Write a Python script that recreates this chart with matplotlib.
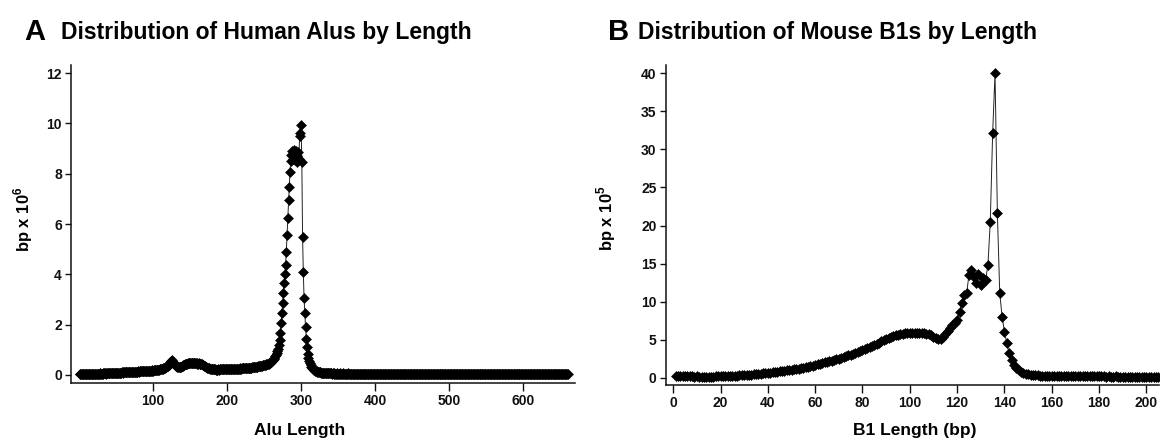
import matplotlib
matplotlib.use("Agg")
import matplotlib.pyplot as plt
import numpy as np

plt.rcParams['font.family'] = ['Liberation Sans', 'DejaVu Sans']
plt.rcParams['font.weight'] = 'bold'
plt.rcParams['mathtext.fontset'] = 'custom'
plt.rcParams['mathtext.rm'] = 'Liberation Sans'
plt.rcParams['mathtext.bf'] = 'Liberation Sans:bold'

# ---------------- Panel A: human Alu length distribution (bp x 10^6) -------------
alu_lengths = np.arange(1, 661)
alu_values = [
    0.02, 0.03, 0.02, 0.03, 0.03, 0.02, 0.03, 0.03, 0.04, 0.03, 0.03, 0.04, 0.03, 0.04, 0.04, 0.03, 0.04, 0.04, 0.05, 0.04,
    0.04, 0.05, 0.04, 0.05, 0.05, 0.04, 0.05, 0.05, 0.06, 0.05, 0.05, 0.06, 0.05, 0.06, 0.06, 0.05, 0.06, 0.06, 0.07, 0.06,
    0.06, 0.07, 0.06, 0.07, 0.07, 0.07, 0.08, 0.07, 0.08, 0.08, 0.08, 0.08, 0.09, 0.08, 0.09, 0.09, 0.09, 0.10, 0.09, 0.10,
    0.10, 0.10, 0.10, 0.11, 0.10, 0.11, 0.11, 0.11, 0.12, 0.11, 0.12, 0.12, 0.12, 0.12, 0.13, 0.12, 0.13, 0.13, 0.13, 0.14,
    0.13, 0.14, 0.14, 0.14, 0.15, 0.14, 0.15, 0.15, 0.15, 0.16, 0.15, 0.16, 0.16, 0.16, 0.17, 0.16, 0.17, 0.17, 0.18, 0.17,
    0.18, 0.18, 0.19, 0.19, 0.20, 0.20, 0.21, 0.21, 0.22, 0.23, 0.23, 0.24, 0.25, 0.26, 0.27, 0.28, 0.30, 0.32, 0.34, 0.36,
    0.40, 0.45, 0.50, 0.55, 0.58, 0.55, 0.50, 0.46, 0.42, 0.39, 0.36, 0.34, 0.32, 0.31, 0.30, 0.30, 0.31, 0.32, 0.34, 0.36,
    0.38, 0.40, 0.42, 0.43, 0.44, 0.45, 0.46, 0.46, 0.47, 0.46, 0.47, 0.47, 0.46, 0.47, 0.46, 0.46, 0.47, 0.46, 0.45, 0.46,
    0.45, 0.46, 0.45, 0.44, 0.43, 0.42, 0.40, 0.38, 0.36, 0.34, 0.32, 0.30, 0.29, 0.28, 0.27, 0.26, 0.25, 0.24, 0.24, 0.23,
    0.23, 0.22, 0.22, 0.22, 0.21, 0.21, 0.21, 0.22, 0.21, 0.22, 0.22, 0.22, 0.23, 0.22, 0.23, 0.23, 0.23, 0.24, 0.23, 0.24,
    0.22, 0.22, 0.23, 0.22, 0.23, 0.23, 0.23, 0.24, 0.23, 0.24, 0.24, 0.24, 0.25, 0.24, 0.25, 0.25, 0.25, 0.26, 0.25, 0.26,
    0.26, 0.26, 0.27, 0.26, 0.27, 0.27, 0.28, 0.27, 0.28, 0.28, 0.29, 0.29, 0.29, 0.30, 0.30, 0.31, 0.31, 0.32, 0.32, 0.33,
    0.33, 0.34, 0.34, 0.35, 0.36, 0.36, 0.37, 0.38, 0.39, 0.40, 0.40, 0.41, 0.42, 0.43, 0.44, 0.45, 0.46, 0.48, 0.50, 0.53,
    0.56, 0.60, 0.64, 0.69, 0.74, 0.80, 0.87, 0.95, 1.05, 1.20, 1.40, 1.67, 2.06, 2.45, 2.85, 3.24, 3.64, 4.03, 4.37, 4.90,
    5.56, 6.22, 6.94, 7.47, 8.07, 8.50, 8.75, 8.90, 8.60, 8.95, 8.80, 8.55, 8.90, 8.70, 8.45, 8.85, 8.60, 9.50, 9.60, 9.92,
    8.45, 5.50, 4.10, 3.05, 2.45, 1.92, 1.45, 1.10, 0.85, 0.68, 0.55, 0.46, 0.39, 0.33, 0.28, 0.24, 0.21, 0.19, 0.17, 0.15,
    0.14, 0.13, 0.12, 0.11, 0.10, 0.10, 0.09, 0.09, 0.08, 0.08, 0.08, 0.07, 0.07, 0.07, 0.07, 0.06, 0.06, 0.06, 0.06, 0.06,
    0.06, 0.05, 0.06, 0.05, 0.06, 0.05, 0.05, 0.06, 0.05, 0.05, 0.05, 0.06, 0.05, 0.05, 0.05, 0.05, 0.06, 0.05, 0.05, 0.05,
    0.05, 0.05, 0.05, 0.06, 0.05, 0.05, 0.05, 0.05, 0.05, 0.05, 0.04, 0.05, 0.05, 0.05, 0.05, 0.04, 0.05, 0.05, 0.05, 0.04,
    0.05, 0.05, 0.04, 0.05, 0.05, 0.04, 0.05, 0.04, 0.05, 0.05, 0.04, 0.05, 0.04, 0.05, 0.04, 0.05, 0.04, 0.05, 0.04, 0.04,
    0.05, 0.04, 0.05, 0.04, 0.04, 0.05, 0.04, 0.04, 0.05, 0.04, 0.04, 0.05, 0.04, 0.04, 0.04, 0.05, 0.04, 0.04, 0.04, 0.04,
    0.04, 0.05, 0.04, 0.04, 0.04, 0.04, 0.04, 0.05, 0.04, 0.04, 0.04, 0.04, 0.04, 0.04, 0.04, 0.05, 0.04, 0.04, 0.04, 0.04,
    0.04, 0.04, 0.04, 0.04, 0.04, 0.04, 0.04, 0.04, 0.04, 0.04, 0.04, 0.04, 0.04, 0.03, 0.04, 0.04, 0.04, 0.04, 0.04, 0.04,
    0.04, 0.04, 0.03, 0.04, 0.04, 0.04, 0.04, 0.04, 0.03, 0.04, 0.04, 0.04, 0.04, 0.03, 0.04, 0.04, 0.04, 0.04, 0.03, 0.04,
    0.04, 0.04, 0.03, 0.04, 0.04, 0.03, 0.04, 0.04, 0.04, 0.03, 0.04, 0.04, 0.03, 0.04, 0.04, 0.03, 0.04, 0.04, 0.03, 0.04,
    0.04, 0.03, 0.04, 0.04, 0.03, 0.04, 0.03, 0.04, 0.04, 0.03, 0.04, 0.03, 0.04, 0.03, 0.04, 0.04, 0.03, 0.04, 0.03, 0.04,
    0.03, 0.04, 0.03, 0.04, 0.03, 0.04, 0.03, 0.04, 0.03, 0.04, 0.03, 0.03, 0.04, 0.03, 0.04, 0.03, 0.03, 0.04, 0.03, 0.04,
    0.03, 0.03, 0.04, 0.03, 0.03, 0.04, 0.03, 0.03, 0.04, 0.03, 0.03, 0.03, 0.04, 0.03, 0.03, 0.03, 0.04, 0.03, 0.03, 0.03,
    0.03, 0.04, 0.03, 0.03, 0.03, 0.03, 0.04, 0.03, 0.03, 0.03, 0.03, 0.03, 0.04, 0.03, 0.03, 0.03, 0.03, 0.03, 0.03, 0.04,
    0.03, 0.03, 0.03, 0.03, 0.03, 0.03, 0.03, 0.04, 0.03, 0.03, 0.03, 0.03, 0.03, 0.03, 0.03, 0.03, 0.03, 0.03, 0.04, 0.03,
    0.03, 0.03, 0.03, 0.03, 0.03, 0.03, 0.03, 0.03, 0.03, 0.03, 0.03, 0.03, 0.03, 0.03, 0.03, 0.03, 0.03, 0.03, 0.03, 0.03,
    0.03, 0.03, 0.03, 0.03, 0.03, 0.03, 0.03, 0.03, 0.03, 0.03, 0.03, 0.03, 0.03, 0.03, 0.03, 0.03, 0.03, 0.03, 0.03, 0.03,
    0.03, 0.03, 0.03, 0.03, 0.03, 0.03, 0.03, 0.03, 0.03, 0.03, 0.03, 0.03, 0.03, 0.03, 0.03, 0.03, 0.03, 0.03, 0.03, 0.03,
]
alu_xticks = [100, 200, 300, 400, 500, 600]
alu_yticks = [0, 2, 4, 6, 8, 10, 12]

# ---------------- Panel B: mouse B1 length distribution (bp x 10^5) --------------
b1_lengths = np.arange(1, 206)
b1_values = [
    0.20, 0.18, 0.19, 0.17, 0.18, 0.16, 0.17, 0.16, 0.15, 0.16, 0.15, 0.15, 0.14, 0.15, 0.14, 0.15, 0.15, 0.16, 0.16, 0.17,
    0.18, 0.19, 0.20, 0.22, 0.23, 0.25, 0.27, 0.29, 0.31, 0.33, 0.35, 0.38, 0.40, 0.43, 0.46, 0.49, 0.52, 0.56, 0.60, 0.64,
    0.68, 0.72, 0.76, 0.80, 0.84, 0.88, 0.92, 0.96, 1.00, 1.05, 1.10, 1.15, 1.20, 1.26, 1.32, 1.38, 1.45, 1.52, 1.60, 1.68,
    1.76, 1.84, 1.92, 2.00, 2.08, 2.16, 2.25, 2.34, 2.43, 2.52, 2.62, 2.72, 2.82, 2.92, 3.03, 3.14, 3.26, 3.38, 3.50, 3.63,
    3.76, 3.90, 4.04, 4.18, 4.32, 4.47, 4.62, 4.77, 4.92, 5.06, 5.20, 5.33, 5.45, 5.56, 5.65, 5.73, 5.80, 5.85, 5.89, 5.92,
    5.93, 5.94, 5.93, 5.92, 5.89, 5.85, 5.78, 5.68, 5.55, 5.40, 5.25, 5.12, 5.10, 5.30, 5.70, 6.10, 6.50, 6.90, 7.20, 7.60,
    8.60, 9.80, 10.90, 11.10, 13.50, 14.10, 13.20, 12.40, 13.60, 12.20, 13.10, 12.80, 14.80, 20.50, 32.10, 40.00, 21.60, 11.10, 8.00, 6.05,
    4.50, 3.20, 2.30, 1.70, 1.25, 0.95, 0.75, 0.62, 0.52, 0.45, 0.40, 0.36, 0.33, 0.30, 0.28, 0.26, 0.25, 0.24, 0.23, 0.22,
    0.21, 0.21, 0.20, 0.20, 0.19, 0.19, 0.19, 0.18, 0.18, 0.18, 0.18, 0.17, 0.17, 0.17, 0.17, 0.17, 0.16, 0.16, 0.16, 0.16,
    0.16, 0.16, 0.15, 0.16, 0.15, 0.15, 0.16, 0.15, 0.15, 0.15, 0.15, 0.14, 0.15, 0.15, 0.14, 0.15, 0.14, 0.14, 0.15, 0.14,
    0.14, 0.14, 0.15, 0.14, 0.14,
]
b1_xticks = [0, 20, 40, 60, 80, 100, 120, 140, 160, 180, 200]
b1_yticks = [0, 5, 10, 15, 20, 25, 30, 35, 40]

W, H = 1162, 441
fig = plt.figure(figsize=(W / 100, H / 100), dpi=100)


def px_axes(l, r, t, b):
    return fig.add_axes([l / W, (H - b) / H, (r - l) / W, (b - t) / H])


line_kw = dict(color='#222222', lw=0.7, marker='D', ms=4.7,
               mfc='black', mec='black', mew=0.4)


def style(ax):
    for s in ('top', 'right'):
        ax.spines[s].set_visible(False)
    for s in ('left', 'bottom'):
        ax.spines[s].set_linewidth(1.1)
        ax.spines[s].set_color('#111111')
    ax.tick_params(axis='x', length=5.5, width=1.0, pad=2.5, labelsize=10, colors='#111111')
    ax.tick_params(axis='y', length=4.5, width=1.0, pad=2.0, labelsize=10, colors='#111111')
    for lab in ax.get_xticklabels() + ax.get_yticklabels():
        lab.set_fontweight('bold')


# Panel A
ax1 = px_axes(71, 575, 65, 383)
ax1.plot(alu_lengths, alu_values, **line_kw)
ax1.set_xlim(-10.8, 670)
ax1.set_ylim(-0.318, 12.32)
ax1.set_xticks(alu_xticks)
ax1.set_yticks(alu_yticks)
style(ax1)

# Panel B
ax2 = px_axes(665.5, 1159, 65, 385)
ax2.plot(b1_lengths, b1_values, **line_kw)
ax2.set_xlim(-3.25, 205.3)
ax2.set_ylim(-0.96, 41.1)
ax2.set_xticks(b1_xticks)
ax2.set_yticks(b1_yticks)
style(ax2)


def ftext(x, y, s, **kw):
    fig.text(x / W, (H - y) / H, s, **kw)


# Titles
ftext(24, 40, 'A', fontsize=21, fontweight='bold', ha='left', va='baseline')
ftext(61, 39, 'Distribution of Human Alus by Length', fontsize=16.5, fontweight='bold',
      ha='left', va='baseline')
ftext(608, 40, 'B', fontsize=21, fontweight='bold', ha='left', va='baseline')
ftext(637.5, 39, 'Distribution of Mouse B1s by Length', fontsize=16.5, fontweight='bold',
      ha='left', va='baseline')

# Axis labels
ftext(300, 431, 'Alu Length', fontsize=12.5, fontweight='bold', ha='center', va='center')
ftext(914.7, 431, 'B1 Length (bp)', fontsize=12.5, fontweight='bold', ha='center', va='center')
ftext(23, 219, r'bp x 10$^{\mathbf{6}}$', fontsize=12, fontweight='bold',
      rotation=90, ha='center', va='center')
ftext(606, 218, r'bp x 10$^{\mathbf{5}}$', fontsize=12, fontweight='bold',
      rotation=90, ha='center', va='center')

fig.savefig('out.png', dpi=100)
